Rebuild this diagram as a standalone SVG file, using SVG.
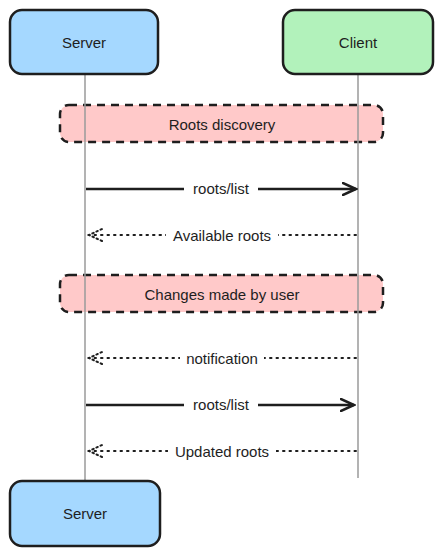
<svg xmlns="http://www.w3.org/2000/svg" width="443" height="556" viewBox="0 0 443 556">
<style>
.actor{stroke:#1e1e1e;stroke-width:2.5}
.srv{fill:#a5d8ff}
.cli{fill:#b2f2bb}
.note{fill:#ffc9c9;stroke:#1e1e1e;stroke-width:2.5;stroke-dasharray:8 6}
.life{stroke:#9a9a9a;stroke-width:1.5;fill:none}
.t{font-family:"Liberation Sans",Arial,sans-serif;font-size:15px;fill:#1e1e1e;text-anchor:middle;dominant-baseline:central}
.solid{stroke:#1e1e1e;stroke-width:2.5;fill:none}
.dot{stroke:#1e1e1e;stroke-width:2;fill:none;stroke-dasharray:1.5 5;stroke-linecap:round}
.lbl{fill:#ffffff}
</style>
<defs>
<marker id="open" markerWidth="16" markerHeight="14" refX="14" refY="7" orient="auto" markerUnits="userSpaceOnUse">
<path d="M1,1 L14,7 L1,13" fill="none" stroke="#1e1e1e" stroke-width="2.5" stroke-linecap="round"/>
</marker>
<marker id="openDot" markerWidth="16" markerHeight="14" refX="14" refY="7" orient="auto" markerUnits="userSpaceOnUse">
<path d="M1,1 L14,7 L1,13" fill="none" stroke="#1e1e1e" stroke-width="2" stroke-dasharray="1.5 3" stroke-linecap="round"/>
</marker>
</defs>
<g id="note-roots-discovery">
<rect class="note" x="60" y="105" width="323" height="37" rx="9"/>
<text class="t" x="222" y="124">Roots discovery</text>
</g>
<g id="note-changes">
<rect class="note" x="60" y="275" width="323" height="37" rx="9"/>
<text class="t" x="222" y="294">Changes made by user</text>
</g>
<g id="lifelines">
<line class="life" x1="85" y1="74" x2="85" y2="481"/>
<line class="life" x1="358" y1="74" x2="358" y2="478"/>
</g>
<g id="server-top">
<rect class="actor srv" x="10" y="10" width="148" height="64" rx="12"/>
<text class="t" x="84" y="42">Server</text>
</g>
<g id="client-top">
<rect class="actor cli" x="283" y="10" width="150" height="64" rx="12"/>
<text class="t" x="358" y="42">Client</text>
</g>
<g id="connectors">
<line class="solid" x1="86" y1="189" x2="356" y2="189" marker-end="url(#open)"/>
<rect class="lbl" x="184" y="180" width="74" height="18"/>
<text class="t" x="221" y="188">roots/list</text>

<line class="dot" x1="356" y1="235" x2="89" y2="235" marker-end="url(#openDot)"/>
<rect class="lbl" x="166" y="226" width="112" height="18"/>
<text class="t" x="222" y="235">Available roots</text>

<line class="dot" x1="356" y1="358" x2="89" y2="358" marker-end="url(#openDot)"/>
<rect class="lbl" x="180" y="349" width="84" height="18"/>
<text class="t" x="222" y="358">notification</text>

<line class="solid" x1="86" y1="405" x2="354" y2="405" marker-end="url(#open)"/>
<rect class="lbl" x="184" y="396" width="74" height="18"/>
<text class="t" x="221" y="404">roots/list</text>

<line class="dot" x1="356" y1="451" x2="89" y2="451" marker-end="url(#openDot)"/>
<rect class="lbl" x="168" y="442" width="108" height="18"/>
<text class="t" x="222" y="451">Updated roots</text>
</g>
<g id="server-bottom">
<rect class="actor srv" x="10" y="481" width="150" height="65" rx="12"/>
<text class="t" x="85" y="513">Server</text>
</g>
</svg>
